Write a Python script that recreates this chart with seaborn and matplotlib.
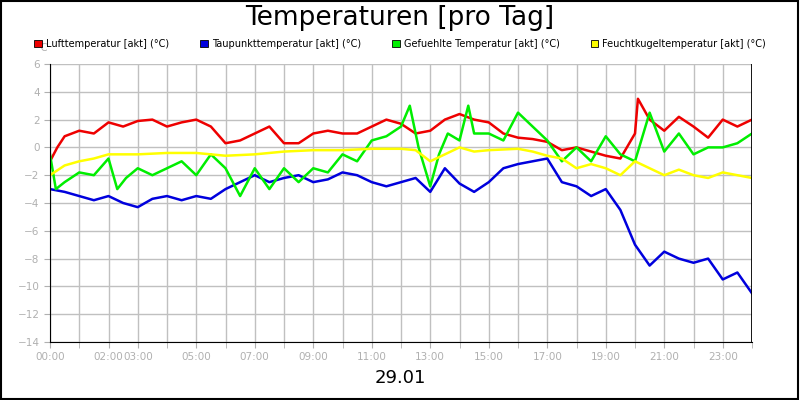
import matplotlib
matplotlib.use("Agg")
import matplotlib.pyplot as plt
import matplotlib.patches as mpatches
import pandas as pd
import seaborn as sns

# %% Data (hours of the day, values in degC)
t_luft = [0, 0.25, 0.5, 1, 1.5, 2, 2.5, 3, 3.5, 4, 4.5, 5, 5.5, 6, 6.5, 7, 7.5, 8, 8.5, 9, 9.5, 10, 10.5,
          11, 11.5, 12, 12.5, 13, 13.5, 14, 14.5, 15, 15.5, 16, 16.5, 17, 17.5, 18, 18.5, 19, 19.5, 20,
          20.1, 20.5, 21, 21.5, 22, 22.5, 23, 23.5, 24]
luft = [-1, 0, 0.8, 1.2, 1.0, 1.8, 1.5, 1.9, 2.0, 1.5, 1.8, 2.0, 1.5, 0.3, 0.5, 1.0, 1.5, 0.3, 0.3, 1.0, 1.2,
        1.0, 1.0, 1.5, 2.0, 1.7, 1.0, 1.2, 2.0, 2.4, 2.0, 1.8, 1.0, 0.7, 0.6, 0.4, -0.2, 0.0, -0.3, -0.6, -0.8,
        1.0, 3.5, 2.0, 1.2, 2.2, 1.5, 0.7, 2.0, 1.5, 2.0]

t_tau = [0, 0.5, 1, 1.5, 2, 2.5, 3, 3.5, 4, 4.5, 5, 5.5, 6, 6.5, 7, 7.5, 8, 8.5, 9, 9.5, 10, 10.5, 11, 11.5,
         12, 12.5, 13, 13.5, 14, 14.5, 15, 15.5, 16, 16.5, 17, 17.5, 18, 18.5, 19, 19.5, 20, 20.5, 21, 21.5,
         22, 22.5, 23, 23.5, 24]
tau = [-3.0, -3.2, -3.5, -3.8, -3.5, -4.0, -4.3, -3.7, -3.5, -3.8, -3.5, -3.7, -3.0, -2.5, -2.0, -2.5, -2.2,
       -2.0, -2.5, -2.3, -1.8, -2.0, -2.5, -2.8, -2.5, -2.2, -3.2, -1.5, -2.6, -3.2, -2.5, -1.5, -1.2, -1.0,
       -0.8, -2.5, -2.8, -3.5, -3.0, -4.5, -7.0, -8.5, -7.5, -8.0, -8.3, -8.0, -9.5, -9.0, -10.5]

t_gef = [0, 0.2, 0.5, 1, 1.5, 2, 2.3, 2.6, 3, 3.5, 4, 4.5, 5, 5.5, 6, 6.5, 7, 7.5, 8, 8.5, 9, 9.5, 10, 10.5,
         11, 11.5, 12, 12.3, 12.6, 13, 13.3, 13.6, 14, 14.3, 14.5, 15, 15.5, 16, 16.5, 17, 17.5, 18, 18.5,
         19, 19.5, 20, 20.5, 21, 21.5, 22, 22.5, 23, 23.5, 24]
gef = [-0.5, -3.0, -2.5, -1.8, -2.0, -0.8, -3.0, -2.2, -1.5, -2.0, -1.5, -1.0, -2.0, -0.5, -1.5, -3.5, -1.5,
       -3.0, -1.5, -2.5, -1.5, -1.8, -0.5, -1.0, 0.5, 0.8, 1.5, 3.0, 0.0, -2.8, -0.5, 1.0, 0.5, 3.0, 1.0, 1.0,
       0.5, 2.5, 1.5, 0.5, -1.0, 0.0, -1.0, 0.8, -0.5, -1.0, 2.5, -0.3, 1.0, -0.5, 0.0, 0.0, 0.3, 1.0]

t_feu = [0, 0.5, 1, 1.5, 2, 3, 4, 5, 6, 7, 8, 9, 10, 11, 12, 12.5, 13, 13.5, 14, 14.5, 15, 16, 16.5, 17,
         17.5, 18, 18.5, 19, 19.5, 20, 20.5, 21, 21.5, 22, 22.5, 23, 23.5, 24]
feu = [-2.0, -1.3, -1.0, -0.8, -0.5, -0.5, -0.4, -0.4, -0.6, -0.5, -0.3, -0.2, -0.2, -0.1, -0.1, -0.2, -1.0,
       -0.5, 0.0, -0.3, -0.2, -0.1, -0.3, -0.6, -0.8, -1.5, -1.2, -1.5, -2.0, -1.0, -1.5, -2.0, -1.6, -2.0,
       -2.2, -1.8, -2.0, -2.2]

names = ["Lufttemperatur [akt] (°C)", "Taupunkttemperatur [akt] (°C)",
         "Gefuehlte Temperatur [akt] (°C)", "Feuchtkugeltemperatur [akt] (°C)"]
colors = ["#ee0000", "#0000dd", "#00ee00", "#ffff00"]

tick_hours = [0, 2, 3, 5, 7, 9, 11, 13, 15, 17, 19, 21, 23]
tick_labels = ["00:00", "02:00", "03:00", "05:00", "07:00", "09:00", "11:00", "13:00",
               "15:00", "17:00", "19:00", "21:00", "23:00"]

frames = []
for t, v, n in [(t_luft, luft, names[0]), (t_tau, tau, names[1]), (t_gef, gef, names[2]), (t_feu, feu, names[3])]:
    frames.append(pd.DataFrame({"h": t, "v": v, "s": n}))
df = pd.concat(frames)

# %% Plot
fig = plt.figure(figsize=(8, 4), dpi=100)
ax = fig.add_axes([50/800, 1-342/400, 702/800, 278/400])
sns.lineplot(data=df, x="h", y="v", hue="s", hue_order=names, palette=colors, lw=1.8,
             legend=False, ax=ax)
ax.set_xlim(0, 24)
ax.set_ylim(-14, 6)
ax.set_xticks(range(25), minor=True)
ax.set_xticks(tick_hours)
ax.set_xticklabels(tick_labels)
ax.set_yticks(range(-14, 7, 2))
ax.grid(True, which="both", color="#c0c0c0", lw=1)
ax.set_axisbelow(True)
ax.tick_params(colors="#b0b0b0", labelsize=7.5, length=4, which="both")
ax.tick_params(axis="x", pad=3)
ax.set_xlabel("")
ax.set_ylabel("")
for s in ["top", "right"]:
    ax.spines[s].set_visible(False)
ax.spines["bottom"].set_color("black")
ax.spines["left"].set_color("black")
ax.axvline(24, color="black", lw=2)

fig.text(0.5, 1-18/400, "Temperaturen [pro Tag]", ha="center", va="center", fontsize=19)
fig.text(0.5, 1-378/400, "29.01", ha="center", va="center", fontsize=13)
fig.text(36/800, 1-48/400, "°C", ha="left", va="center", fontsize=7, color="#b0b0b0")
handles = [mpatches.Patch(facecolor=c, edgecolor="black", lw=0.6) for c in colors]
fig.legend(handles, names, loc="center", bbox_to_anchor=(0.5, 1-44/400), ncol=4, frameon=False,
           fontsize=7, handlelength=0.8, handleheight=0.8, handletextpad=0.4, columnspacing=3.2)
fig.patches.append(mpatches.Rectangle((0.001, 0.002), 0.997, 0.995, transform=fig.transFigure,
                                      fill=False, edgecolor="black", lw=1.5))
fig.savefig("out.png", dpi=100)
